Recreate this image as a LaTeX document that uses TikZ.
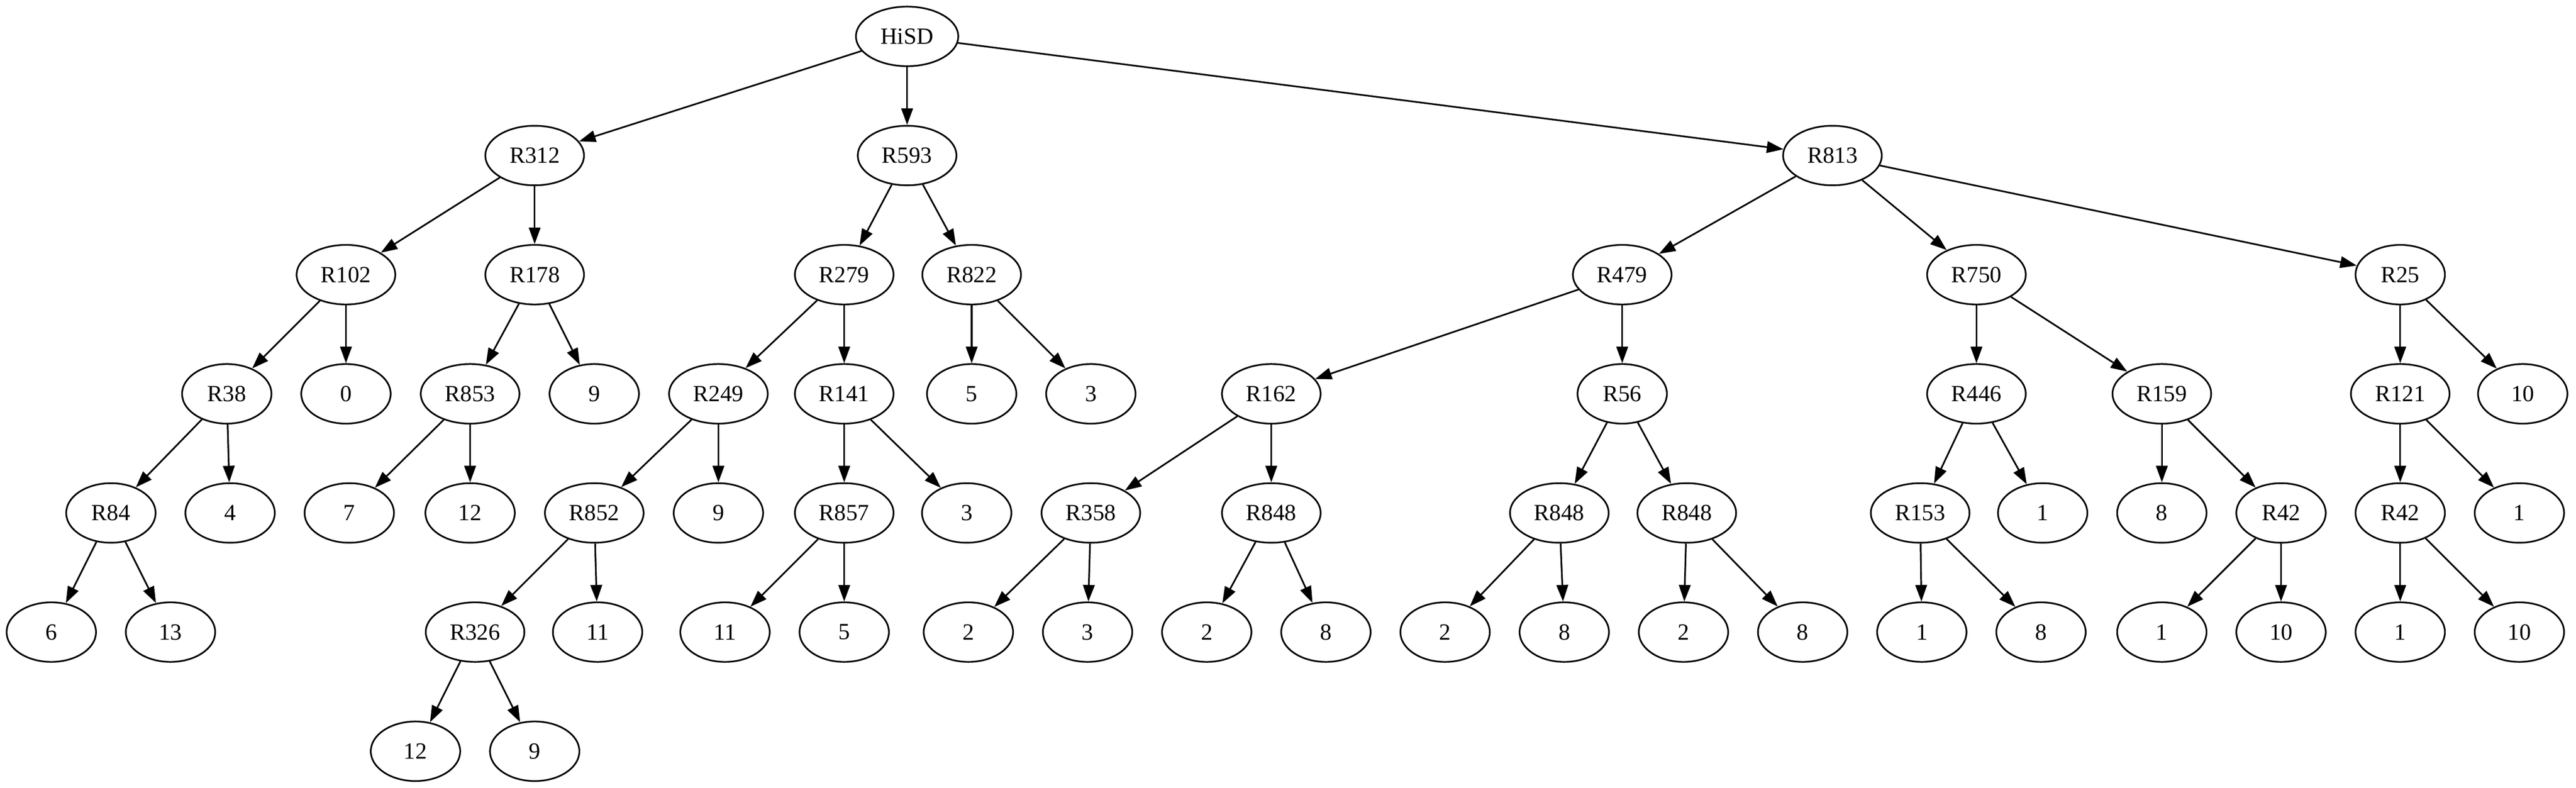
\documentclass[tikz,border=0pt]{standalone}
\usepackage{fontspec}
\setmainfont{Liberation Serif}
\usepackage{tikz}
\usetikzlibrary{arrows.meta}
\usetikzlibrary{shapes}

\begin{document}
\begin{tikzpicture}[x=1pt, y=1pt, line width=1pt,
        every node/.style={draw, ellipse, minimum width=54pt, minimum height=36pt, inner xsep=5.9pt, inner ysep=0pt, font=\fontsize{14}{16}\selectfont},
        >={Triangle[length=10pt, width=7pt]}]
        \useasboundingbox (0,0) rectangle (1556.2,476);

        \node (hisd) at (548,454) {HiSD};

        \node (r312) at (323,382) {R312};
        \node (r593) at (548,382) {R593};
        \node (r813) at (1107,382) {R813};

        \node (r102) at (209,310) {R102};
        \node (r178) at (323,310) {R178};
        \node (r279) at (510,310) {R279};
        \node (r822) at (587,310) {R822};
        \node (r479) at (980,310) {R479};
        \node (r750) at (1194,310) {R750};
        \node (r25) at (1450,310) {R25};

        \node (r38) at (137,238) {R38};
        \node (l0) at (209,238) {0};
        \node (r853) at (284,238) {R853};
        \node (l9a) at (359,238) {9};
        \node (r249) at (434,238) {R249};
        \node (r141) at (510,238) {R141};
        \node (l5a) at (587,238) {5};
        \node (l3a) at (659,238) {3};
        \node (r162) at (768,238) {R162};
        \node (r56) at (980,238) {R56};
        \node (r446) at (1194,238) {R446};
        \node (r159) at (1306,238) {R159};
        \node (r121) at (1450,238) {R121};
        \node (l10a) at (1524,238) {10};

        \node (r84) at (67,166) {R84};
        \node (l4) at (139,166) {4};
        \node (l7) at (211,166) {7};
        \node (l12a) at (284,166) {12};
        \node (r852) at (359,166) {R852};
        \node (l9b) at (434,166) {9};
        \node (r857) at (510,166) {R857};
        \node (l3b) at (584,166) {3};
        \node (r358) at (659,166) {R358};
        \node (r848a) at (768,166) {R848};
        \node (r848b) at (942,166) {R848};
        \node (r848c) at (1019,166) {R848};
        \node (r153) at (1160,166) {R153};
        \node (l1a) at (1234,166) {1};
        \node (l8a) at (1306,166) {8};
        \node (r42a) at (1378,166) {R42};
        \node (r42b) at (1450,166) {R42};
        \node (l1b) at (1522,166) {1};

        \node (l6) at (31,94) {6};
        \node (l13) at (103,94) {13};
        \node (r326) at (287,94) {R326};
        \node (l11a) at (361,94) {11};
        \node (l11b) at (438,94) {11};
        \node (l5b) at (510,94) {5};
        \node (l2a) at (585,94) {2};
        \node (l3c) at (657,94) {3};
        \node (l2b) at (729,94) {2};
        \node (l8b) at (801,94) {8};
        \node (l2c) at (873,94) {2};
        \node (l8c) at (945,94) {8};
        \node (l2d) at (1017,94) {2};
        \node (l8d) at (1089,94) {8};
        \node (l1c) at (1161,94) {1};
        \node (l8e) at (1233,94) {8};
        \node (l1d) at (1306,94) {1};
        \node (l10b) at (1378,94) {10};
        \node (l1e) at (1450,94) {1};
        \node (l10c) at (1522,94) {10};

        \node (l12b) at (251,22) {12};
        \node (l9c) at (323,22) {9};

        \foreach \a/\b in {hisd/r312, hisd/r593, hisd/r813,
                r312/r102, r312/r178, r593/r279, r593/r822,
                r813/r479, r813/r750, r813/r25,
                r102/r38, r102/l0, r178/r853, r178/l9a,
                r279/r249, r279/r141, r822/l5a, r822/l3a,
                r479/r162, r479/r56, r750/r446, r750/r159,
                r25/r121, r25/l10a,
                r38/r84, r38/l4, r853/l7, r853/l12a,
                r249/r852, r249/l9b, r141/r857, r141/l3b,
                r162/r358, r162/r848a, r56/r848b, r56/r848c,
                r446/r153, r446/l1a, r159/l8a, r159/r42a,
                r121/r42b, r121/l1b,
                r84/l6, r84/l13, r852/r326, r852/l11a,
                r857/l11b, r857/l5b, r358/l2a, r358/l3c,
                r848a/l2b, r848a/l8b, r848b/l2c, r848b/l8c,
                r848c/l2d, r848c/l8d, r153/l1c, r153/l8e,
                r42a/l1d, r42a/l10b, r42b/l1e, r42b/l10c,
                r326/l12b, r326/l9c}
            { \draw[->] (\a) -- (\b); }
    \end{tikzpicture}
\end{document}
